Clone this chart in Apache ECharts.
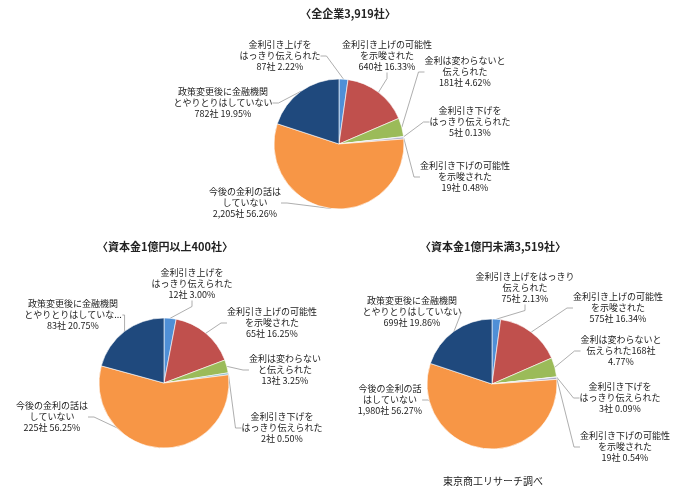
<!DOCTYPE html>
<html><head><meta charset="utf-8">
<script src="https://cdn.jsdelivr.net/npm/echarts@6/dist/echarts.min.js"></script>
<style>html,body{margin:0;background:#fff}#main{width:700px;height:499px}</style>
</head><body><div id="main"></div>
<script>
// 区分
const categories = ['金利引き上げをはっきり伝えられた', '金利引き上げの可能性を示唆された', '金利は変わらないと伝えられた',
  '金利引き下げをはっきり伝えられた', '金利引き下げの可能性を示唆された', '今後の金利の話はしていない', '政策変更後に金融機関とやりとりはしていない']
const colors = ['#4f8fd6', '#c0504d', '#9bbb59', '#8fbfd0', '#a9a9c8', '#f79646', '#1f497d']

const titles = ['〈全企業3,919社〉', '〈資本金1億円以上400社〉', '〈資本金1億円未満3,519社〉']
const countsAll = [87, 640, 181, 5, 19, 2205, 782]
const pctAll = ['2.22', '16.33', '4.62', '0.13', '0.48', '56.26', '19.95']
const countsLarge = [12, 65, 13, 2, 0, 225, 83]
const pctLarge = ['3.00', '16.25', '3.25', '0.50', '0', '56.25', '20.75']
const countsSmall = [75, 575, 168, 3, 19, 1980, 699]
const pctSmall = ['2.13', '16.34', '4.77', '0.09', '0.54', '56.27', '19.86']

// ラベルの改行
const namesAll = ['金利引き上げを\nはっきり伝えられた', '金利引き上げの可能性\nを示唆された', '金利は変わらないと\n伝えられた',
  '金利引き下げを\nはっきり伝えられた', '金利引き下げの可能性\nを示唆された', '今後の金利の話は\nしていない', '政策変更後に金融機関\nとやりとりはしていない']
const namesLarge = ['金利引き上げを\nはっきり伝えられた', '金利引き上げの可能性\nを示唆された', '金利は変わらない\nと伝えられた',
  '金利引き下げを\nはっきり伝えられた', '', '今後の金利の話は\nしていない', '政策変更後に金融機関\nとやりとりはしていない']
const namesSmall = ['金利引き上げをはっきり\n伝えられた', '金利引き上げの可能性\nを示唆された', '金利は変わらないと\n伝えられた{c}社\n{p}%',
  '金利引き下げを\nはっきり伝えられた', '金利引き下げの可能性\nを示唆された', '今後の金利の話\nはしていない', '政策変更後に金融機関\nとやりとりはしていない']

// レイアウト
const pies = [
  { center: [339, 144], title: [348, 14], labels: [[280, 56], [387, 56], [465, 72], [470, 122], [465, 177], [245, 203], [223, 103]] },
  { center: [164, 383], title: [165, 247], labels: [[192, 284], [272, 323], [285, 370], [282, 428], [0, 0], [52, 417], [73, 315]] },
  { center: [492, 384], title: [493, 247], labels: [[525, 288], [618, 308], [621, 351], [620, 398], [625, 447], [390, 400], [412, 312]] }
]
const counts = [countsAll, countsLarge, countsSmall]
const pcts = [pctAll, pctLarge, pctSmall]
const names = [namesAll, namesLarge, namesSmall]

const fmt = n => n.toLocaleString('en-US')

const series = pies.map((p, k) => {
  const data = []
  counts[k].forEach((v, i) => {
    if (v === 0) return
    let t = names[k][i]
    const text = t.includes('{c}') ? t.replace('{c}', fmt(v)).replace('{p}', pcts[k][i]) : t + '\n' + fmt(v) + '社 ' + pcts[k][i] + '%'
    data.push({ name: categories[i], value: v, idx: i, text, itemStyle: { color: colors[i] } })
  })
  return {
    type: 'pie', center: p.center, radius: 65, startAngle: 90, clockwise: true,
    animation: false, silent: true,
    itemStyle: { borderColor: '#fff', borderWidth: 0.6 },
    label: {
      show: true, position: 'outside', fontSize: 9, lineHeight: 11, color: '#222', align: 'center',
      fontFamily: 'Noto Sans CJK JP', formatter: prm => prm.data.text
    },
    labelLine: { show: true, length: 8, length2: 6, lineStyle: { color: '#999', width: 0.8 } },
    labelLayout: prm => {
      const d = data[prm.dataIndex]
      const xy = p.labels[d.idx]
      return { x: xy[0], y: xy[1], align: 'center', verticalAlign: 'middle' }
    },
    data
  }
})

const graphic = pies.map((p, k) => ({
  type: 'text', x: p.title[0], y: p.title[1],
  style: { text: titles[k], font: 'bold 11px "Noto Sans CJK JP"', fill: '#222', align: 'center', verticalAlign: 'middle' }
}))
graphic.push({ type: 'text', x: 493, y: 481, style: { text: '東京商工リサーチ調べ', font: '10px "Noto Sans CJK JP"', fill: '#222', align: 'center', verticalAlign: 'middle' } })

const myChart = echarts.init(document.getElementById('main'))
myChart.setOption({ backgroundColor: '#fff', series, graphic })
</script>
</body></html>
